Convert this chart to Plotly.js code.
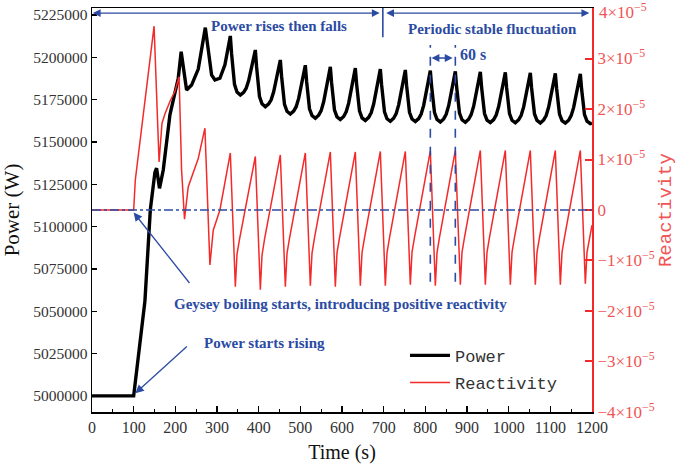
<!DOCTYPE html>
<html>
<head>
<meta charset="utf-8">
<script src="https://cdn.plot.ly/plotly-3.0.1.min.js"></script>
<style>html,body{margin:0;padding:0;background:#fff;}#chart{width:685px;height:469px;}</style>
</head>
<body>
<div id="chart"></div>
<script>
// ---- Power (W) vs time (s) ----
const powerTime = [
  0, 100, 127, 140, 151, 155, 162, 171, 187, 207, 214, 227, 239, 255, 272, 280, 287, 295, 307, 319, 332,
  335, 338, 342, 348, 356, 364, 370, 376, 382, 387, 392,
  395, 398, 402, 408, 416, 424, 430, 436, 442, 447, 452,
  455, 458, 462, 468, 476, 484, 490, 496, 502, 507, 512,
  515, 518, 522, 528, 536, 544, 550, 556, 562, 567, 572,
  575, 578, 582, 588, 596, 604, 610, 616, 622, 627, 632,
  635, 638, 642, 648, 656, 664, 670, 676, 682, 687, 692,
  695, 698, 702, 708, 716, 724, 730, 736, 742, 747, 752,
  755, 758, 762, 768, 776, 784, 790, 796, 802, 807, 812,
  815, 818, 822, 828, 836, 844, 850, 856, 862, 867, 872,
  875, 878, 882, 888, 896, 904, 910, 916, 922, 927, 932,
  935, 938, 942, 948, 956, 964, 970, 976, 982, 987, 992,
  995, 998, 1002, 1008, 1016, 1024, 1030, 1036, 1042, 1047, 1052,
  1055, 1058, 1062, 1068, 1076, 1084, 1090, 1096, 1102, 1107, 1112,
  1115, 1118, 1122, 1128, 1136, 1144, 1150, 1156, 1162, 1167, 1172,
  1175, 1178, 1182, 1188, 1196, 1200
];
const powerValues = [
  5000000, 5000000, 5056000, 5110000, 5132000, 5134500, 5122600, 5133400, 5166000, 5187600, 5203300, 5180700, 5183600, 5193000, 5217500, 5201400, 5189600, 5186600, 5187600, 5195500, 5212600,
  5202100, 5192400, 5184000, 5179400, 5177700, 5179300, 5181700, 5186200, 5192300, 5198400, 5204300,
  5194300, 5184900, 5176800, 5172500, 5170800, 5172500, 5174900, 5179600, 5186000, 5192300, 5198400,
  5188800, 5179900, 5172200, 5168100, 5166500, 5168200, 5170800, 5175700, 5182300, 5189000, 5195300,
  5185900, 5177100, 5169600, 5165600, 5164000, 5165800, 5168500, 5173700, 5180700, 5187600, 5194300,
  5185000, 5176300, 5168800, 5164800, 5163200, 5165000, 5167800, 5172900, 5179900, 5186900, 5193600,
  5184300, 5175700, 5168300, 5164200, 5162700, 5164500, 5167200, 5172400, 5179400, 5186300, 5193000,
  5183800, 5175100, 5167700, 5163700, 5162200, 5164000, 5166700, 5171900, 5178900, 5185800, 5192500,
  5183400, 5174800, 5167500, 5163500, 5162000, 5163800, 5166500, 5171600, 5178600, 5185500, 5192100,
  5183000, 5174500, 5167300, 5163300, 5161800, 5163600, 5166300, 5171400, 5178200, 5185100, 5191700,
  5182700, 5174200, 5167000, 5163100, 5161600, 5163400, 5166100, 5171100, 5178000, 5184800, 5191400,
  5182400, 5174000, 5166800, 5162900, 5161400, 5163200, 5165900, 5170900, 5177700, 5184600, 5191100,
  5182200, 5173800, 5166700, 5162800, 5161300, 5163100, 5165700, 5170700, 5177500, 5184300, 5190800,
  5181900, 5173600, 5166500, 5162700, 5161200, 5163000, 5165600, 5170600, 5177300, 5184100, 5190500,
  5181700, 5173400, 5166400, 5162600, 5161100, 5162800, 5165500, 5170400, 5177100, 5183800, 5190200,
  5181400, 5173100, 5166100, 5162300, 5160800, 5161000
];

// ---- Reactivity vs time (s) ----
const reactTime = [
  0, 100, 104, 149, 161, 168, 175, 187, 199, 209, 215, 222, 231, 243, 255, 271, 283, 291, 307, 332, 344,
  348, 354, 392, 404,
  408, 414, 452, 464,
  468, 474, 512, 524,
  528, 534, 572, 584,
  588, 594, 632, 644,
  648, 654, 692, 704,
  708, 714, 752, 764,
  768, 774, 812, 824,
  828, 834, 872, 884,
  888, 894, 932, 944,
  948, 954, 992, 1004,
  1008, 1014, 1052, 1064,
  1068, 1074, 1112, 1124,
  1128, 1134, 1172, 1184,
  1188, 1194, 1200
];
const reactValues = [
  0, 0, 0.6e-5, 3.64e-5, 0.95e-5, 1.72e-5, 1.9e-5, 2.15e-5, 2.35e-5, 2.64e-5, 0.8e-5, -0.18e-5, 0.46e-5, 0.76e-5, 1.02e-5, 1.62e-5, -1.09e-5, -0.4e-5, 0, 1.13e-5, -1.52e-5,
  -0.88e-5, -0.58e-5, 1.06e-5, -1.58e-5,
  -0.9e-5, -0.58e-5, 1.09e-5, -1.52e-5,
  -0.86e-5, -0.56e-5, 1.13e-5, -1.5e-5,
  -0.86e-5, -0.55e-5, 1.15e-5, -1.52e-5,
  -0.85e-5, -0.55e-5, 1.15e-5, -1.5e-5,
  -0.85e-5, -0.55e-5, 1.16e-5, -1.5e-5,
  -0.85e-5, -0.55e-5, 1.16e-5, -1.48e-5,
  -0.84e-5, -0.54e-5, 1.17e-5, -1.5e-5,
  -0.85e-5, -0.54e-5, 1.18e-5, -1.48e-5,
  -0.84e-5, -0.54e-5, 1.18e-5, -1.48e-5,
  -0.84e-5, -0.54e-5, 1.18e-5, -1.48e-5,
  -0.84e-5, -0.54e-5, 1.18e-5, -1.48e-5,
  -0.84e-5, -0.54e-5, 1.18e-5, -1.48e-5,
  -0.84e-5, -0.54e-5, 1.18e-5, -1.46e-5,
  -0.84e-5, -0.54e-5, -0.3e-5
];

// ---- Axis tick labels ----
const powerTicks = [5000000, 5025000, 5050000, 5075000, 5100000, 5125000, 5150000, 5175000, 5200000, 5225000];
const reactTickVals = [-4e-5, -3e-5, -2e-5, -1e-5, 0, 1e-5, 2e-5, 3e-5, 4e-5];
const reactTickText = ['\u22124\u00d710<sup>\u22125</sup>', '\u22123\u00d710<sup>\u22125</sup>', '\u22122\u00d710<sup>\u22125</sup>', '\u22121\u00d710<sup>\u22125</sup>', '0',
  '1\u00d710<sup>\u22125</sup>', '2\u00d710<sup>\u22125</sup>', '3\u00d710<sup>\u22125</sup>', ''];
const reactTopLabel = '4\u00d710<sup>\u22125</sup>';

const BLUE = '#2b4ba3';
const RED = '#f42a2a';
const RED_TXT = '#f05454';
const SERIF = 'Liberation Serif, Times New Roman, serif';
const MONO = 'Liberation Mono, DejaVu Sans Mono, monospace';

const traces = [
  {x: powerTime, y: powerValues, name: 'Power', type: 'scatter', mode: 'lines',
   line: {color: '#000', width: 3.4}, yaxis: 'y', legend: 'legend'},
  {x: reactTime, y: reactValues, name: 'Reactivity', type: 'scatter', mode: 'lines',
   line: {color: RED, width: 1.5}, yaxis: 'y2', legend: 'legend2'}
];

function txt(text, x, y, size) {
  return {text: '<b>' + text + '</b>', xref: 'paper', yref: 'paper', x: x, y: y, showarrow: false,
          xanchor: 'center', yanchor: 'middle', font: {family: SERIF, size: size || 15, color: BLUE}};
}
function dblArrow(x0, x1, y) {
  return {text: '', x: x0, y: y, xref: 'x', yref: 'y2', ax: x1, ay: y, axref: 'x', ayref: 'y2',
          showarrow: true, arrowside: 'end+start', arrowhead: 2, arrowsize: 1.2, arrowwidth: 1.3, arrowcolor: BLUE};
}

const layout = {
  width: 685, height: 469,
  margin: {l: 92, r: 93, t: 8, b: 57},
  paper_bgcolor: '#fff', plot_bgcolor: '#fff',
  xaxis: {
    range: [0, 1200], tick0: 0, dtick: 100, ticks: 'inside', ticklen: 6, tickwidth: 1.3, tickcolor: '#000',
    minor: {dtick: 50, ticks: 'inside', ticklen: 3, tickwidth: 1, tickcolor: '#000'},
    showline: true, linecolor: '#000', linewidth: 1.5, mirror: true,
    showgrid: false, zeroline: false,
    tickfont: {family: SERIF, size: 16, color: '#333'},
    title: {text: 'Time (s)', font: {family: SERIF, size: 20, color: '#111'}, standoff: 10}
  },
  yaxis: {
    range: [4990500, 5229100], tickvals: powerTicks, tickformat: 'd',
    ticks: 'inside', ticklen: 5, tickwidth: 1.3, tickcolor: '#000',
    showline: true, linecolor: '#000', linewidth: 1.5,
    showgrid: false, zeroline: false,
    tickfont: {family: SERIF, size: 15.5, color: '#333'},
    title: {text: 'Power (W)', font: {family: SERIF, size: 21, color: '#111'}, standoff: 10}
  },
  yaxis2: {
    overlaying: 'y', side: 'right', range: [-4.0005e-5, 4.0005e-5],
    tickvals: reactTickVals, ticktext: reactTickText,
    ticks: 'inside', ticklen: 7, tickwidth: 2, tickcolor: RED,
    showline: true, linecolor: RED, linewidth: 2,
    showgrid: false, zeroline: false,
    tickfont: {family: SERIF, size: 17, color: RED_TXT},
    title: {text: 'Reactivity', font: {family: MONO, size: 19, color: RED_TXT}, standoff: 4}
  },
  showlegend: true,
  legend: {x: 0.626, y: 0.139, xanchor: 'left', yanchor: 'middle', bgcolor: 'rgba(0,0,0,0)',
           font: {family: MONO, size: 17, color: '#333'}, itemwidth: 40},
  legend2: {x: 0.626, y: 0.072, xanchor: 'left', yanchor: 'middle', bgcolor: 'rgba(0,0,0,0)',
            font: {family: MONO, size: 17, color: '#333'}, itemwidth: 40},
  shapes: [
    {type: 'line', xref: 'paper', yref: 'y2', x0: 0, x1: 1, y0: 0, y1: 0,
     line: {color: BLUE, width: 1.5, dash: 'dashdot'}},
    {type: 'line', xref: 'x', yref: 'y2', x0: 698, x1: 698, y0: 3.42e-5, y1: 4e-5,
     line: {color: BLUE, width: 1.6}},
    {type: 'line', xref: 'x', yref: 'y2', x0: 812, x1: 812, y0: -1.42e-5, y1: 3.27e-5,
     line: {color: BLUE, width: 1.6, dash: 'dash'}},
    {type: 'line', xref: 'x', yref: 'y2', x0: 872, x1: 872, y0: -1.42e-5, y1: 3.27e-5,
     line: {color: BLUE, width: 1.6, dash: 'dash'}}
  ],
  annotations: [
    {text: reactTopLabel, xref: 'paper', x: 1, xanchor: 'left', xshift: 5, yref: 'y2', y: 4e-5, yanchor: 'middle',
     yshift: -3, showarrow: false, font: {family: SERIF, size: 17, color: RED_TXT}},
    txt('Power rises then falls', 0.374, 0.955),
    txt('Periodic stable fluctuation', 0.80, 0.948),
    txt('60 s', 0.762, 0.884, 16),
    txt('Geysey boiling starts, introducing positive reactivity', 0.496, 0.267),
    txt('Power starts rising', 0.345, 0.171),
    dblArrow(2, 694, 3.9e-5),
    dblArrow(706, 1197, 3.9e-5),
    dblArrow(815, 869, 3.01e-5),
    {text: '', x: 100, y: -0.05e-5, xref: 'x', yref: 'y2', ax: 57, ay: 72,
     showarrow: true, arrowhead: 2, arrowsize: 1.3, arrowwidth: 1.3, arrowcolor: BLUE},
    {text: '', x: 104, y: 5001600, xref: 'x', yref: 'y', ax: 53, ay: -48,
     showarrow: true, arrowhead: 2, arrowsize: 1.3, arrowwidth: 1.3, arrowcolor: BLUE}
  ]
};

Plotly.newPlot('chart', traces, layout, {displayModeBar: false, staticPlot: true});
</script>
</body>
</html>
